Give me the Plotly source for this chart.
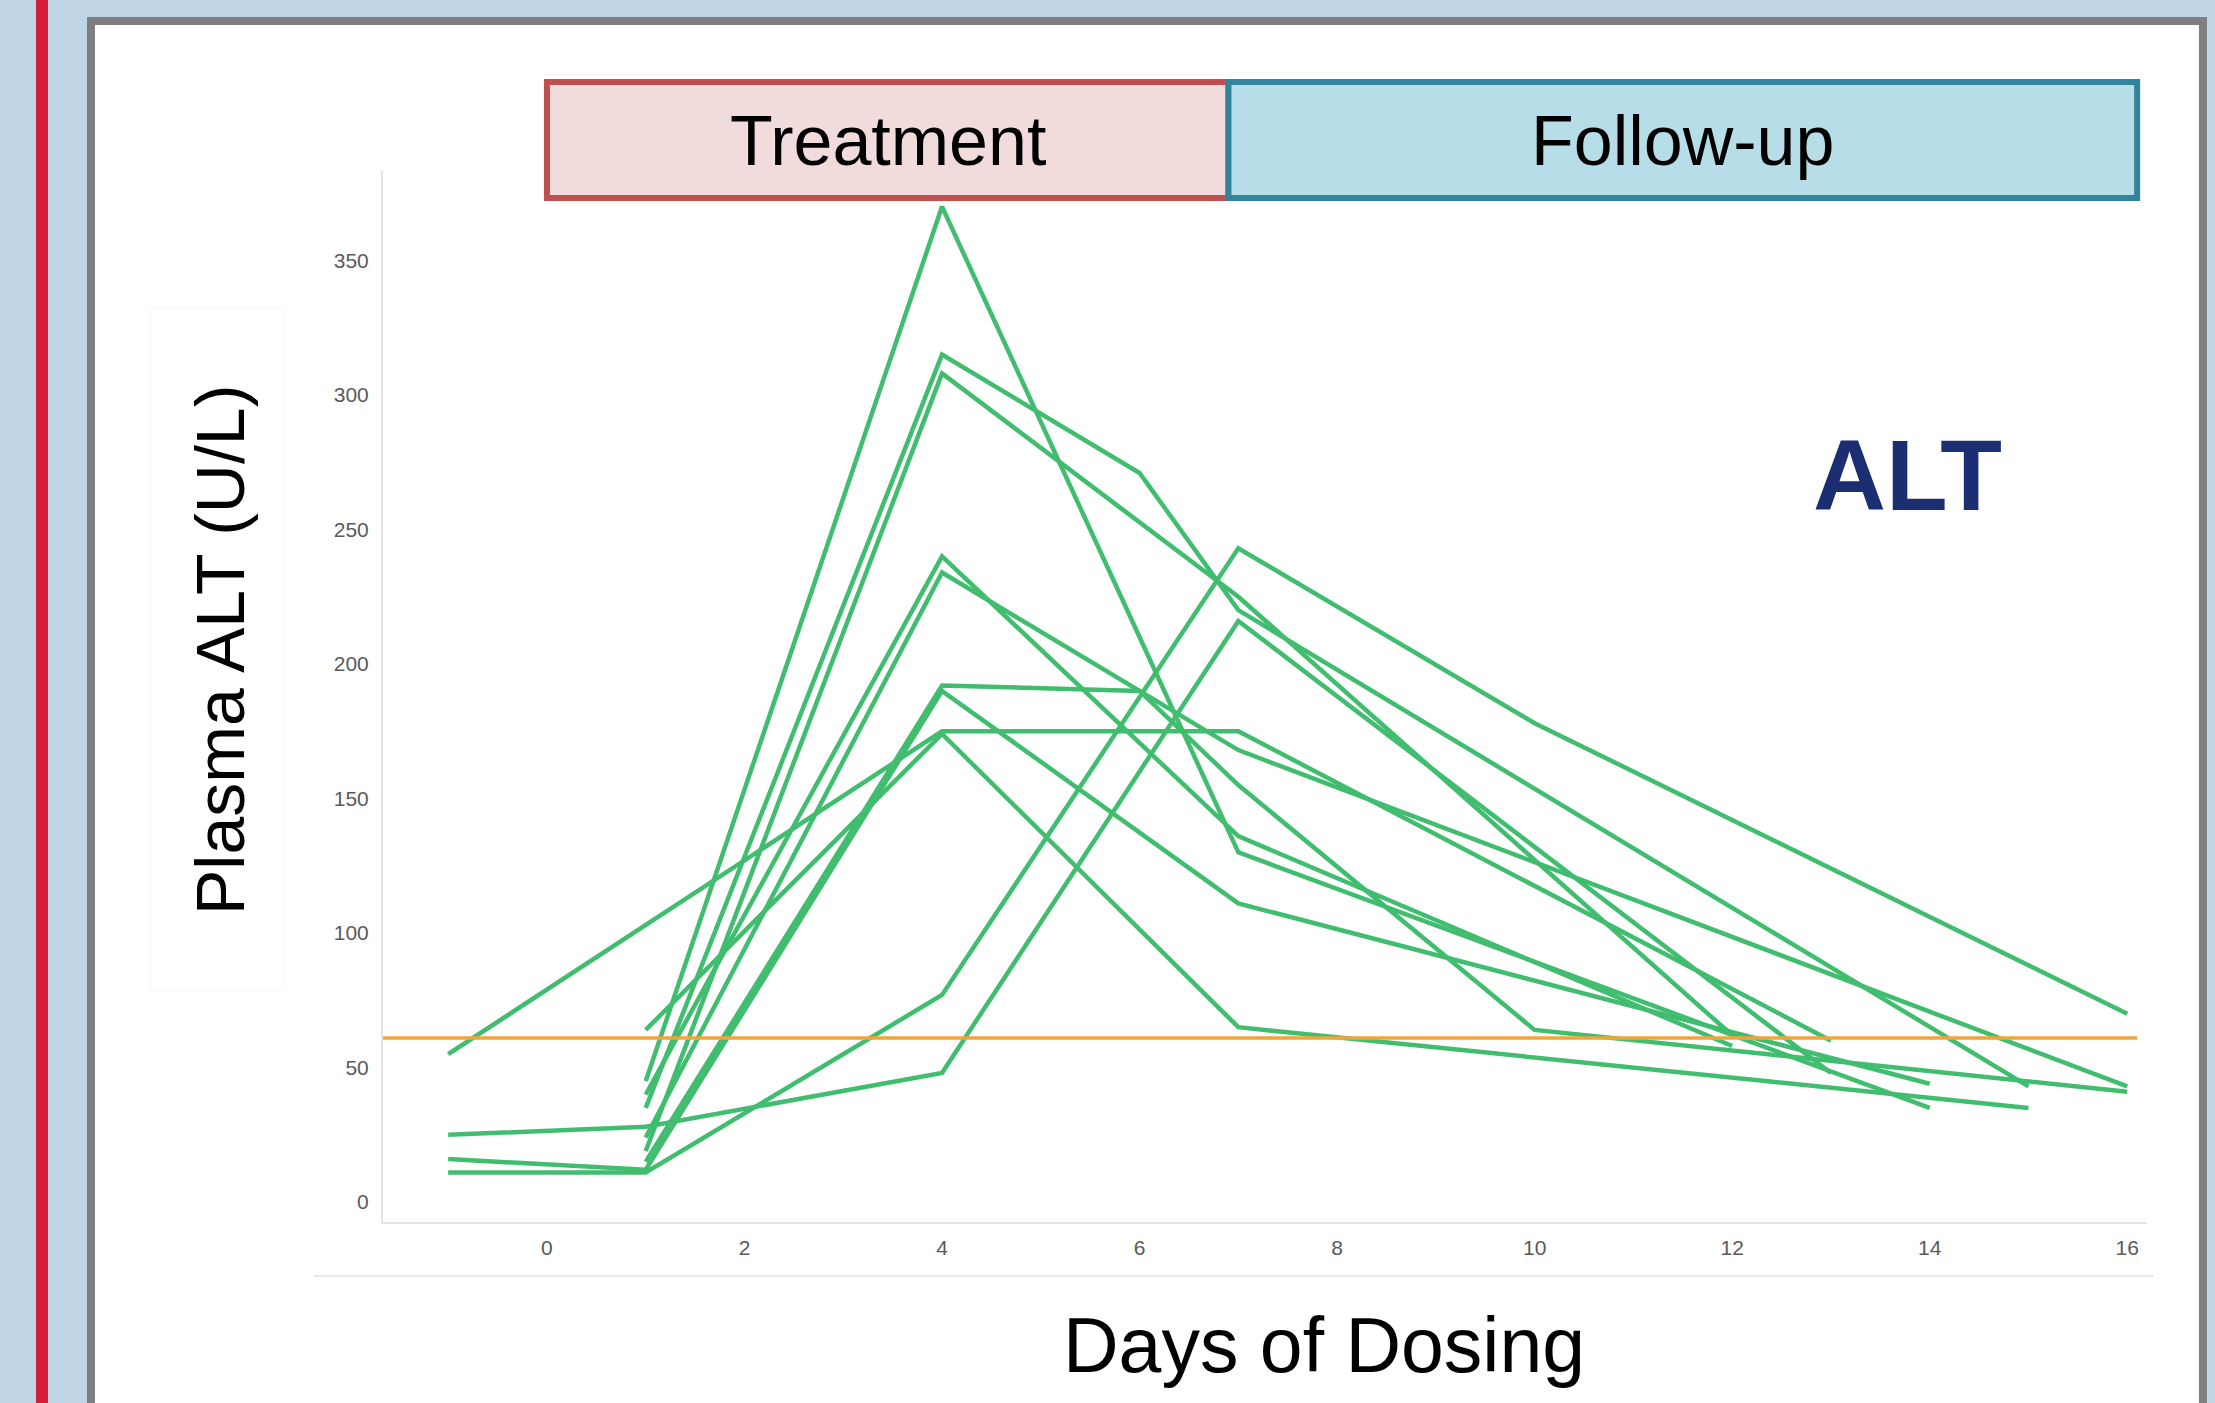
import plotly.graph_objects as go

# ---------------- data ----------------
subjects = ["S01", "S02", "S03", "S04", "S05", "S06", "S07", "S08", "S09", "S10", "S11"]
days = [
    [-1, 4, 7, 13],
    [-1, 1, 4, 7, 13],
    [-1, 1, 4, 7, 14],
    [-1, 1, 4, 7, 10, 16],
    [1, 4, 7, 15],
    [1, 4, 7, 14],
    [1, 4, 6, 7, 15],
    [1, 4, 7, 12],
    [1, 4, 7, 12],
    [1, 4, 7, 16],
    [1, 4, 6, 7, 10, 16],
]
alt_values = [
    [55, 175, 175, 60],
    [25, 28, 48, 216, 48],
    [16, 12, 190, 111, 44],
    [11, 11, 77, 243, 178, 70],
    [64, 174, 65, 35],
    [45, 370, 130, 35],
    [35, 315, 271, 220, 43],
    [19, 308, 225, 62],
    [40, 240, 136, 58],
    [24, 234, 168, 43],
    [15, 192, 190, 155, 64, 41],
]
uln_alt = 61
phases = ["Treatment", "Follow-up"]
phase_start = [0, 6.9]
phase_end = [6.9, 16.1]
x_ticks = [0, 2, 4, 6, 8, 10, 12, 14, 16]
y_ticks = [0, 50, 100, 150, 200, 250, 300, 350]

# ---------------- layout geometry (pixels) ----------------
W, H = 2215, 1403
L, R, T, B = 383, 2147, 170, 1222
XMIN, XMAX = -1.66, 16.2
YMIN, YMAX = -7.4, 383.6


def px(x):
    return (x - L) / (R - L)


def py(y):
    return (B - y) / (B - T)


fig = go.Figure()

for name, d, v in zip(subjects, days, alt_values):
    fig.add_trace(go.Scatter(
        x=d, y=v, mode="lines", name=name,
        line=dict(color="#40BD6E", width=4.5),
        showlegend=False, hoverinfo="x+y+name",
    ))

fig.add_trace(go.Scatter(
    x=[XMIN, phase_end[-1]], y=[uln_alt, uln_alt], mode="lines",
    line=dict(color="#F2A43A", width=3.5), showlegend=False, name="ULN",
))

shapes = []
# red vertical bar at left
shapes.append(dict(type="rect", xref="paper", yref="paper",
                   x0=px(36), x1=px(48), y0=py(1420), y1=py(-20),
                   fillcolor="#D51E3A", line=dict(width=0), layer="below"))
# white panel with grey border
shapes.append(dict(type="rect", xref="paper", yref="paper",
                   x0=px(91), x1=px(2203), y0=py(1440), y1=py(21),
                   fillcolor="white", line=dict(color="#7F7F7F", width=8), layer="below"))
# faint line under the x tick labels
shapes.append(dict(type="line", xref="paper", yref="paper",
                   x0=px(314), x1=px(2154), y0=py(1276), y1=py(1276),
                   line=dict(color="#E8E8E8", width=2), layer="below"))
# faint frame around the y-axis title
shapes.append(dict(type="rect", xref="paper", yref="paper",
                   x0=px(150), x1=px(283), y0=py(990), y1=py(308),
                   fillcolor="rgba(0,0,0,0)", line=dict(color="#F6F6F6", width=1), layer="below"))

phase_fill = ["#F2DCDB", "#B7DDE8"]
phase_line = ["#C0504D", "#31849B"]
annotations = []
for ph, s, e, fc, lc in zip(phases, phase_start, phase_end, phase_fill, phase_line):
    shapes.append(dict(type="rect", xref="x", yref="paper",
                       x0=s, x1=e, y0=py(198), y1=py(82),
                       fillcolor=fc, line=dict(color=lc, width=6)))
    annotations.append(dict(xref="x", yref="paper", x=(s + e) / 2, y=py(141),
                            text=ph, showarrow=False,
                            font=dict(family="Liberation Sans, Arial", size=70, color="black"),
                            xanchor="center", yanchor="middle"))

annotations.append(dict(xref="paper", yref="paper", x=px(1907), y=py(475),
                        text="<b>ALT</b>", showarrow=False,
                        font=dict(family="Liberation Sans, Arial", size=101, color="#1B2E72"),
                        xanchor="center", yanchor="middle"))
annotations.append(dict(xref="paper", yref="paper", x=px(220), y=py(650),
                        text="Plasma ALT (U/L)", showarrow=False, textangle=-90,
                        font=dict(family="Liberation Sans, Arial", size=68, color="black"),
                        xanchor="center", yanchor="middle"))
annotations.append(dict(xref="paper", yref="paper", x=px(1324), y=py(1345),
                        text="Days of Dosing", showarrow=False,
                        font=dict(family="Liberation Sans, Arial", size=77, color="black"),
                        xanchor="center", yanchor="middle"))

tick_font = dict(family="Liberation Sans, Arial", size=21, color="#5A5A5A")
fig.update_layout(
    width=W, height=H,
    margin=dict(l=L, r=W - R, t=T, b=H - B, pad=0),
    paper_bgcolor="#C0D5E5",
    plot_bgcolor="rgba(0,0,0,0)",
    shapes=shapes,
    annotations=annotations,
    showlegend=False,
    xaxis=dict(range=[XMIN, XMAX], tickvals=x_ticks, showgrid=False, zeroline=False,
               showline=True, linecolor="#E3E3E3", linewidth=2, ticks="",
               ticklabelstandoff=6, tickfont=tick_font),
    yaxis=dict(range=[YMIN, YMAX], tickvals=y_ticks, showgrid=False, zeroline=False,
               showline=True, linecolor="#E3E3E3", linewidth=2, ticks="",
               ticklabelstandoff=8, tickfont=tick_font),
)

fig.write_html("out.html",
               config={"displayModeBar": False},
               post_script="document.body.style.margin='0';document.body.style.background='#C0D5E5';")
